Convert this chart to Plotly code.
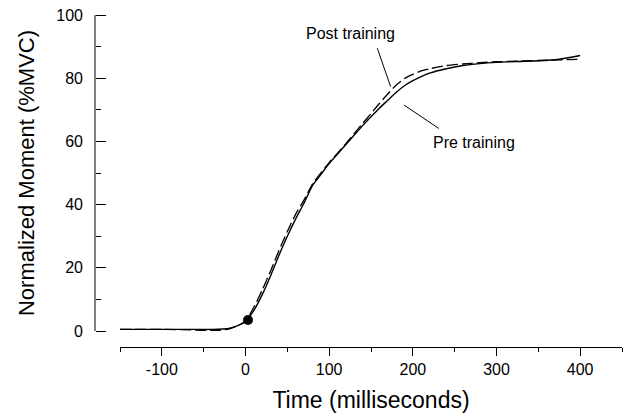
import plotly.graph_objects as go

# ---- data ----
time_ms = [-150, -100, -60, -40, -20, -10, 0, 10, 20, 30, 40, 50, 60, 70, 80, 90, 100,
           110, 120, 130, 140, 150, 160, 170, 180, 190, 200, 210, 220, 240, 260, 280,
           300, 325, 350, 375, 400]
pre_training = [0.5, 0.5, 0.5, 0.5, 0.8, 1.6, 3.0, 6.5, 11.5, 17.5, 24.0, 30.0, 35.5, 40.5,
                46.0, 49.5, 53.0, 56.0, 59.0, 62.0, 65.0, 67.8, 70.5, 73.0, 75.5, 77.6,
                79.2, 80.5, 81.6, 83.0, 84.0, 84.6, 85.0, 85.3, 85.5, 86.0, 87.2]
post_training = [0.5, 0.5, 0.3, 0.1, 0.6, 1.6, 3.2, 7.5, 13.0, 19.0, 25.5, 31.5, 37.0, 41.5,
                 46.5, 50.0, 53.3, 56.3, 59.3, 62.5, 65.7, 68.8, 72.0, 75.0, 77.8, 79.9,
                 81.2, 82.3, 83.0, 84.0, 84.5, 84.9, 85.2, 85.4, 85.6, 85.8, 86.0]
onset_time = [3]
onset_value = [3.5]

x_tickvals = [-100, 0, 100, 200, 300, 400]
x_ticktext = ["-100", "0", "100", "200", "300", "400"]
y_range = [0, 100]

# label annotations: text position and pointer line (data coordinates)
post_label = dict(text="Post training", x=126, y=94, lx0=157.5, ly0=89.5, lx1=173.5, ly1=77.3)
pre_label = dict(text="Pre training", x=273, y=59.5, lx0=189.5, ly0=71.5, lx1=231, ly1=64.1)

FONT = "Liberation Sans, Arial, sans-serif"
W, H = 637, 417
ML, MR, MT, MB = 95, 15, 15, 70

plot_w = W - ML - MR
plot_h = H - MT - MB
x_start = (120 - ML) / plot_w
y_start = (347 - 331) / plot_h

fig = go.Figure()
fig.add_trace(go.Scatter(x=time_ms, y=pre_training, mode="lines", name="Pre training",
                         line=dict(color="black", width=1.4, shape="spline", smoothing=0.6)))
fig.add_trace(go.Scatter(x=time_ms, y=post_training, mode="lines", name="Post training",
                         yaxis="y3",
                         line=dict(color="black", width=1.3, dash="11px,4px",
                                   shape="spline", smoothing=0.6)))
fig.add_trace(go.Scatter(x=onset_time, y=onset_value, mode="markers", yaxis="y2",
                         marker=dict(color="black", size=10), showlegend=False))

for lab in (post_label, pre_label):
    fig.add_annotation(x=lab["x"], y=lab["y"], text=lab["text"], showarrow=False,
                       font=dict(family=FONT, size=16, color="black"))
    fig.add_shape(type="line", x0=lab["lx0"], y0=lab["ly0"], x1=lab["lx1"], y1=lab["ly1"],
                  line=dict(color="black", width=1))

# y axis spine (free-standing, left of the x-axis start)
fig.add_shape(type="line", xref="paper", yref="paper", x0=0, x1=0, y0=y_start, y1=1,
              line=dict(color="black", width=1))

tick_axis = dict(domain=[y_start, 1], anchor="free", position=0, overlaying="y",
                 automargin=False, range=y_range, tickmode="linear",
                 showgrid=False, zeroline=False, showline=False, showticklabels=False,
                 tickwidth=1, tickcolor="black")

fig.update_layout(
    width=W, height=H,
    margin=dict(l=ML, r=MR, t=MT, b=MB, autoexpand=False),
    paper_bgcolor="white", plot_bgcolor="white",
    showlegend=False,
    font=dict(family=FONT, color="black"),
    xaxis=dict(
        domain=[x_start, 1], anchor="free", position=0, automargin=False,
        range=[-150, 450], tickmode="array", tickvals=x_tickvals, ticktext=x_ticktext,
        showgrid=False, zeroline=False,
        showline=True, linecolor="black", linewidth=1,
        ticks="outside", ticklen=8, tickwidth=1, tickcolor="black",
        minor=dict(tickmode="linear", tick0=-150, dtick=100, ticks="outside",
                   ticklen=4, tickcolor="black", tickwidth=1),
        tickfont=dict(family=FONT, size=16, color="black"),
        title=dict(text="Time (milliseconds)", font=dict(family=FONT, size=23, color="black"),
                   standoff=14),
    ),
    # labels and title of the moment axis
    yaxis=dict(
        domain=[y_start, 1], anchor="free", position=0, automargin=False,
        range=y_range, tickmode="linear", tick0=0, dtick=20,
        showgrid=False, zeroline=False, showline=False, ticks="",
        tickfont=dict(family=FONT, size=16, color="black"),
        ticklabelstandoff=12,
        title=dict(text="Normalized Moment (%MVC)", font=dict(family=FONT, size=22, color="black"),
                   standoff=14),
    ),
    # long ticks every 20 (right-side axis at the spine, so outside ticks point right)
    yaxis2=dict(tick_axis, side="right", ticks="outside", tick0=0, dtick=20, ticklen=10),
    # short ticks in between
    yaxis3=dict(tick_axis, side="left", ticks="inside", tick0=10, dtick=20, ticklen=5),
)

fig.write_html("out.html")
